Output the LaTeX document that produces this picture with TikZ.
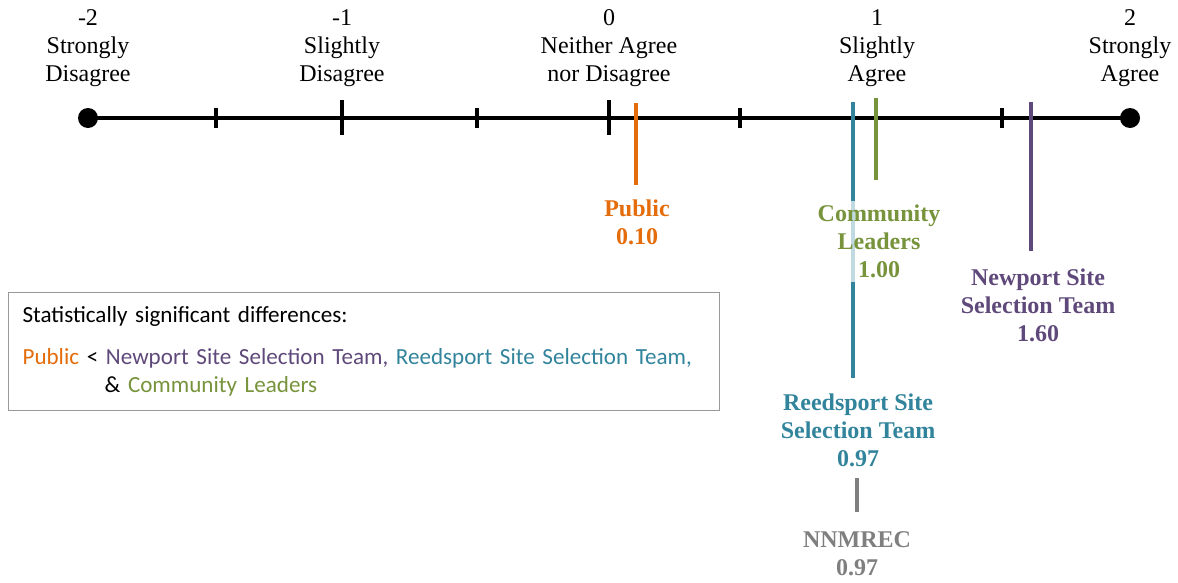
\documentclass[tikz,border=0pt]{standalone}
\usepackage{fontspec}
\setmainfont{Liberation Serif}
\newfontfamily\notefont{Carlito}
\definecolor{pubcol}{HTML}{E46C0A}
\definecolor{comcol}{HTML}{77933C}
\definecolor{newcol}{HTML}{5F497A}
\definecolor{reedcol}{HTML}{31849B}
\definecolor{nnmcol}{HTML}{7F7F7F}
\tikzset{
  scalelabel/.style={align=center, inner sep=0pt, font=\fontsize{18}{21}\selectfont},
  grouplabel/.style={align=center, inner sep=3pt, font=\fontsize{18}{21}\selectfont\bfseries},
  markline/.style={line width=2.6pt},
  tick/.style={line width=2.6pt},
}
\begin{document}
\begin{tikzpicture}[x=0.75pt, y=-0.75pt]
    \useasboundingbox (0,0) rectangle (1178,582);
    % the scale
    \draw[line width=2.6pt] (88,118) coordinate (lo) -- (1130,118) coordinate (hi);
    \foreach \x in {216,477,740,1002} \draw[tick] (\x,108) -- (\x,128);
    \foreach \x in {342,609,876} \draw[tick] (\x,100) -- (\x,135);
    \fill (lo) circle (7.5pt);
    \fill (hi) circle (7.5pt);
    \node[scalelabel] (sdis) at (88,48) {-2\\Strongly\\Disagree};
    \node[scalelabel] (ldis) at (342,48) {-1\\Slightly\\Disagree};
    \node[scalelabel] (neut) at (609,48) {0\\Neither Agree\\nor Disagree};
    \node[scalelabel] (lagr) at (877,48) {1\\Slightly\\Agree};
    \node[scalelabel] (sagr) at (1130,48) {2\\Strongly\\Agree};
    % group means
    \coordinate (pubtop) at (636,103);  \coordinate (pubend) at (636,185);
    \coordinate (reedtop) at (853,102); \coordinate (reedend) at (853,378);
    \coordinate (comtop) at (876,98);   \coordinate (comend) at (876,180);
    \coordinate (newtop) at (1031,102); \coordinate (newend) at (1031,251);
    \coordinate (nnmtop) at (857,478);  \coordinate (nnmend) at (857,512);
    \draw[markline, pubcol] (pubtop) -- (pubend);
    \draw[markline, reedcol] (reedtop) -- (reedend);
    \draw[markline, comcol] (comtop) -- (comend);
    \draw[markline, newcol] (newtop) -- (newend);
    \draw[markline, nnmcol] (nnmtop) -- (nnmend);
    \node[grouplabel, pubcol] (pub) at (637,222) {Public\\0.10};
    \node[grouplabel, comcol, fill=white, fill opacity=0.7, text opacity=1] (com) at (879,241) {Community\\Leaders\\1.00};
    \node[grouplabel, newcol] (newp) at (1038,305) {Newport Site\\Selection Team\\1.60};
    \node[grouplabel, reedcol] (reed) at (858,430) {Reedsport Site\\Selection Team\\0.97};
    \node[grouplabel, nnmcol] (nnm) at (857,554) {NNMREC\\0.97};
    % note box
    \node[draw=gray!80, line width=0.9pt, anchor=north west, minimum width=533pt, minimum height=87pt,
          text width=512pt, align=left, inner sep=10.5pt, font=\notefont\fontsize{17.3}{21}\selectfont] (note) at (8,292)
      {Statistically significant differences:\\[10.5pt]
       \textcolor{pubcol}{Public} < \textcolor{newcol}{Newport Site Selection Team,} \textcolor{reedcol}{Reedsport Site Selection Team,}\\
       \hspace*{61.5pt}\& \textcolor{comcol}{Community Leaders}};
\end{tikzpicture}
\end{document}
